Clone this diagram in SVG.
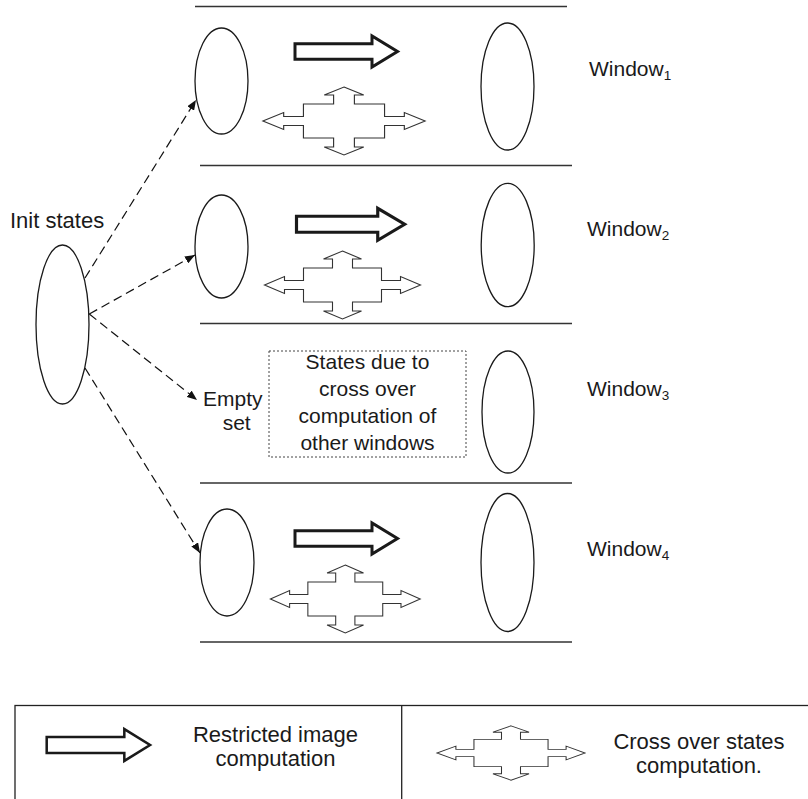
<svg xmlns="http://www.w3.org/2000/svg" xmlns:xlink="http://www.w3.org/1999/xlink" width="808" height="799" viewBox="0 0 808 799">
<style>
text{font-family:"Liberation Sans",Arial,sans-serif;fill:#1a1a1a}
.t21{font-size:21px}
.t22{font-size:22px}
.win{font-size:21px}
.sub{font-size:13.5px}
.ell{fill:none;stroke:#1a1a1a;stroke-width:1.3}
.sep{stroke:#333;stroke-width:1.6;fill:none}
.fat{fill:#fff;stroke:#1a1a1a;stroke-width:3;stroke-linejoin:miter}
.cross{fill:#fff;stroke:#333;stroke-width:1.1;stroke-linejoin:miter}
.dash{fill:none;stroke:#111;stroke-width:1.2;stroke-dasharray:9 5}
.dot{fill:#fff;stroke:#444;stroke-width:1;stroke-dasharray:2 2}
.frame{fill:none;stroke:#222;stroke-width:1.3}
</style>
<defs>
<marker id="ah" markerWidth="10" markerHeight="8" refX="10" refY="4" orient="auto" markerUnits="userSpaceOnUse">
<path d="M0,0 L10,4 L0,8 Z" fill="#111"/>
</marker>
<path id="fatArrow" d="M0,-7.75 L77,-7.75 L77,-15.5 L102.5,0 L77,15.5 L77,7.75 L0,7.75 Z"/>
<path id="crossArrow" d="M0,-34 L19,-26 L10,-26 L10,-17 L39,-17 L39,-4.5 L58,-4.5 L58,-8.5 L78,0 L58,8.5 L58,4.5 L39,4.5 L39,17 L10,17 L10,26 L19,26 L0,34 L-19,26 L-10,26 L-10,17 L-39,17 L-39,4.5 L-58,4.5 L-58,8.5 L-78,0 L-58,-8.5 L-58,-4.5 L-39,-4.5 L-39,-17 L-10,-17 L-10,-26 L-19,-26 Z"/>
</defs>

<g id="separators">
<line class="sep" x1="195" y1="6.5" x2="567" y2="6.5"/>
<line class="sep" x1="200" y1="165.5" x2="572" y2="165.5"/>
<line class="sep" x1="200" y1="323.5" x2="572" y2="323.5"/>
<line class="sep" x1="200" y1="483" x2="572" y2="483"/>
<line class="sep" x1="200" y1="642" x2="572" y2="642"/>
</g>

<g id="init">
<ellipse class="ell" cx="62.5" cy="324.5" rx="26.5" ry="79.5"/>
<text class="t22" x="10" y="228">Init states</text>
</g>

<g id="window1">
<ellipse id="w1-left" class="ell" cx="221.5" cy="81" rx="26.5" ry="53"/>
<use class="fat" xlink:href="#fatArrow" transform="translate(295,51.5)"/>
<use class="cross" xlink:href="#crossArrow" transform="translate(344,121) scale(1.04,1)"/>
<ellipse id="w1-right" class="ell" cx="507.5" cy="86.5" rx="26.5" ry="63.5"/>
<text class="win" x="589" y="76">Window<tspan class="sub" dy="4">1</tspan></text>
</g>

<g id="window2">
<ellipse id="w2-left" class="ell" cx="221.5" cy="246.5" rx="26.5" ry="51.5"/>
<use class="fat" xlink:href="#fatArrow" transform="translate(296.5,224.3) scale(1.055,1.03)"/>
<use class="cross" xlink:href="#crossArrow" transform="translate(342.5,285)"/>
<ellipse id="w2-right" class="ell" cx="507.7" cy="245" rx="26.5" ry="61.7"/>
<text class="win" x="587" y="235.5">Window<tspan class="sub" dy="4">2</tspan></text>
</g>

<g id="window3">
<text class="t21" x="203" y="405.5">Empty</text>
<text class="t21" x="236.7" y="430" text-anchor="middle">set</text>
<g id="w3-box">
<rect class="dot" x="269" y="351" width="197" height="106"/>
<text class="t21" text-anchor="middle" x="367.5" y="369">States due to</text>
<text class="t21" text-anchor="middle" x="367.5" y="396">cross over</text>
<text class="t21" text-anchor="middle" x="367.5" y="423">computation of</text>
<text class="t21" text-anchor="middle" x="367.5" y="449.5">other windows</text>
</g>
<ellipse id="w3-right" class="ell" cx="508" cy="412" rx="26" ry="61"/>
<text class="win" x="587" y="395.5">Window<tspan class="sub" dy="4">3</tspan></text>
</g>

<g id="window4">
<ellipse id="w4-left" class="ell" cx="227" cy="562.5" rx="27" ry="53.5"/>
<use class="fat" xlink:href="#fatArrow" transform="translate(295,538.5)"/>
<use class="cross" xlink:href="#crossArrow" transform="translate(345.3,599) scale(0.96,1)"/>
<ellipse id="w4-right" class="ell" cx="507.5" cy="562.5" rx="26.5" ry="69"/>
<text class="win" x="587" y="555.5">Window<tspan class="sub" dy="4">4</tspan></text>
</g>

<g id="connectors">
<line class="dash" x1="85" y1="278" x2="196" y2="100" marker-end="url(#ah)"/>
<line class="dash" x1="89.3" y1="314" x2="195" y2="255" marker-end="url(#ah)"/>
<line class="dash" x1="89.3" y1="314" x2="197" y2="400" marker-end="url(#ah)"/>
<line class="dash" x1="85" y1="368" x2="200" y2="553" marker-end="url(#ah)"/>
</g>

<g id="legend">
<rect class="frame" x="15" y="705.5" width="800" height="110"/>
<line class="frame" x1="401.7" y1="705.5" x2="401.7" y2="799"/>
<g id="legend-restricted">
<use class="fat" style="stroke-width:2.5" xlink:href="#fatArrow" transform="translate(46.7,745) scale(1.008,1.03)"/>
<text class="t22" text-anchor="middle" x="275.5" y="741.5">Restricted image</text>
<text class="t22" text-anchor="middle" x="275.5" y="765.5">computation</text>
</g>
<g id="legend-cross">
<use class="cross" xlink:href="#crossArrow" transform="translate(511,753) scale(0.95,0.8)"/>
<text class="t22" text-anchor="middle" x="699" y="749.3">Cross over states</text>
<text class="t22" text-anchor="middle" x="699" y="773.3">computation.</text>
</g>
</g>
</svg>
